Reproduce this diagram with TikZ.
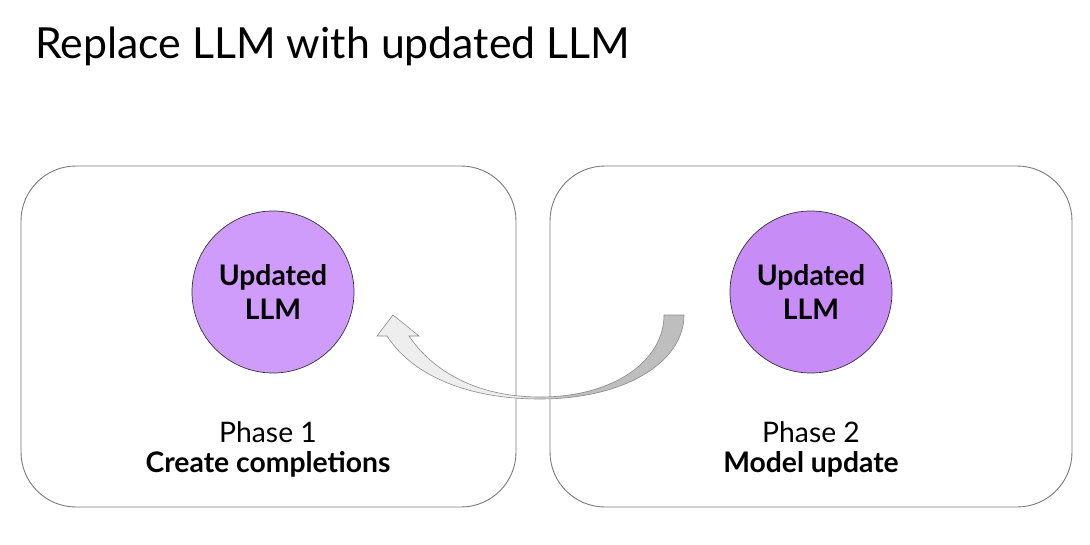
\documentclass[tikz,border=0pt]{standalone}
\usepackage{fontspec}
\setmainfont{Lato}
\usetikzlibrary{shapes.geometric}
\definecolor{boxline}{HTML}{7A7A7A}
\definecolor{circleL}{HTML}{CF9CFC}
\definecolor{circleR}{HTML}{C88CF7}
\definecolor{arrowL}{HTML}{EEEEEE}
\definecolor{arrowR}{HTML}{BEBEBE}
\definecolor{arrowline}{HTML}{8A8A8A}
\pgfdeclarehorizontalshading{ribbon}{100bp}{color(0bp)=(arrowL); color(47bp)=(arrowL); color(56bp)=(arrowR); color(100bp)=(arrowR)}
\begin{document}
\begin{tikzpicture}[x=1pt,y=-1pt,
  phasebox/.style={draw=boxline, line width=0.9pt, rounded corners=55pt},
  llm/.style={circle, draw=black!80, line width=0.7pt, minimum size=162pt, inner sep=0pt, align=center,
    font=\fontsize{28.3}{34}\selectfont\bfseries},
  phasetxt/.style={anchor=base, inner sep=0pt, font=\fontsize{28.3}{30}\selectfont}]
\useasboundingbox (0,0) rectangle (1090,544);
\fill[white] (0,0) rectangle (1090,544);
\node[anchor=base west, inner sep=0pt, font=\fontsize{42.8}{50}\selectfont] (title) at (35,58) {Replace LLM with updated LLM};
\draw[phasebox] (21,166) rectangle (516,507);
\draw[phasebox] (550,166) rectangle (1072,507);
\node[llm, fill=circleL] (llm1) at (273,292) {Updated\\LLM};
\node[llm, fill=circleR] (llm2) at (811,292) {Updated\\LLM};
\node[phasetxt] (p1) at (268,442) {Phase 1};
\node[phasetxt, font=\fontsize{28.3}{30}\selectfont\bfseries] (c1) at (268,472) {Create completions};
\node[phasetxt] (p2) at (811,442) {Phase 2};
\node[phasetxt, font=\fontsize{28.3}{30}\selectfont\bfseries] (c2) at (811,472) {Model update};
\draw[draw=arrowline, line width=0.6pt, shading=ribbon]
  (664,315) -- (684,315)
  .. controls (684,362) and (625,399) .. (540,399)
  .. controls (462,399) and (410,372) .. (387,336)
  -- (377,336) -- (393,315) -- (419,336) -- (409,336)
  .. controls (432,370) and (475,397) .. (540,397)
  .. controls (615,397) and (664,360) .. cycle;
\end{tikzpicture}
\end{document}
